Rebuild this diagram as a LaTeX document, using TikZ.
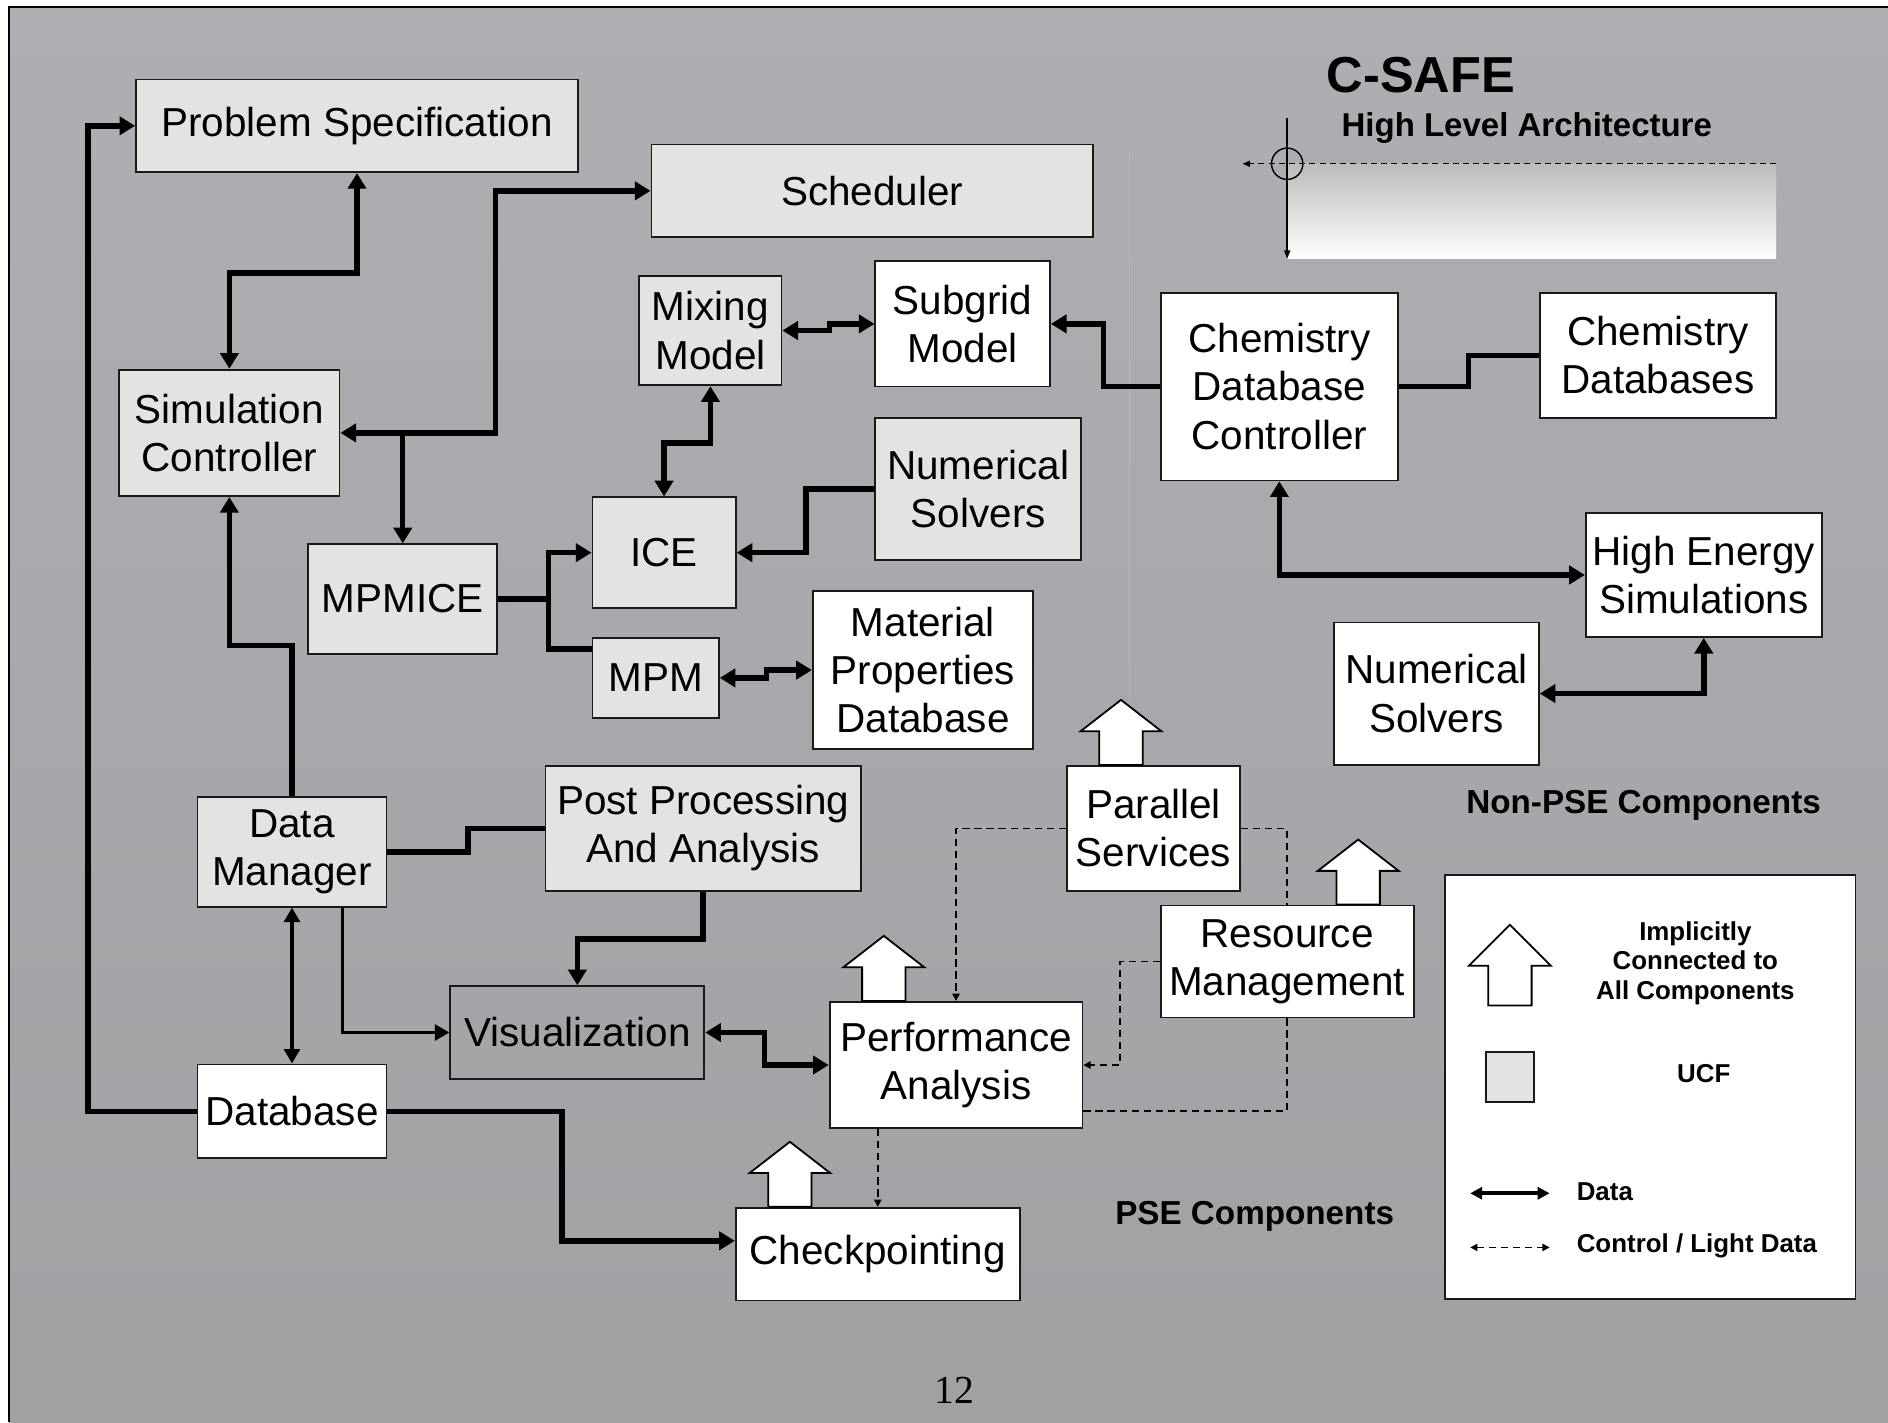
\documentclass[tikz,border=0pt]{standalone}
\usepackage{fontspec}
\setmainfont{Liberation Sans}
\newfontfamily\pagenumfont{Liberation Serif}
\usepackage{tikz}
\usetikzlibrary{arrows.meta,calc}
\usepackage{xcolor}
\definecolor{ucfgray}{RGB}{227,227,227}
\definecolor{bgtop}{RGB}{173,175,179}
\definecolor{bgbot}{RGB}{160,161,163}
\definecolor{hairline}{RGB}{182,184,187}
\definecolor{rulergray}{RGB}{188,188,188}

\tikzset{
  comp/.style={draw=black!90, line width=1.5pt, fill=white, align=center, inner sep=0pt, font=\fontsize{33.6}{40}\selectfont},
  ucf/.style={comp, fill=ucfgray},
  data/.style={line width=4.5pt, >={Triangle[length=13pt,width=15pt]}},
  thindata/.style={line width=3pt, >={Triangle[length=12pt,width=13pt]}},
  ctrl/.style={line width=1.3pt, dash pattern=on 6pt off 4pt, >={Triangle[length=6pt,width=6pt]}},
  caption/.style={font=\fontsize{27.6}{32}\selectfont\bfseries},
  keytext/.style={font=\fontsize{21.5}{24.5}\selectfont\bfseries, align=center},
  implicit/.pic={\draw[line width=1.5pt, fill=white] (-18,0) -- (-18,28) -- (-33.5,28) -- (0,54) -- (33.5,28) -- (18,28) -- (18,0) -- cycle;},
  implicitkey/.pic={\draw[line width=1.5pt, fill=white] (-18,0) -- (-18,33) -- (-34,33) -- (0,67) -- (34,33) -- (18,33) -- (18,0) -- cycle;},
}

\begin{document}
\begin{tikzpicture}[x=1pt,y=1pt,yscale=-1,xscale=1]
\useasboundingbox (0,0) rectangle (1568,1181);

%Shape: Background
\fill[white] (0,0) rectangle (1568,1181);
\shade[top color=bgtop, bottom color=bgbot] (7.5,6) rectangle (1568,1181);
\draw[line width=1.5pt] (7.5,1181) -- (7.5,6) -- (1568,6);
\draw[hairline, line width=1.2pt] (938,125) -- (938,580);

%Shape: Ruler
\shade[top color=rulergray, bottom color=white] (1069,136) rectangle (1475,215);
\coordinate (rulertop) at (1069,98);
\coordinate (rulerbot) at (1069,215);
\coordinate (rulerright) at (1475,136);
\coordinate (rulerleft) at (1032,136);
\draw[line width=1.2pt, -{Triangle[length=7pt,width=5pt]}] (rulertop) -- (rulerbot);
\draw[line width=1.2pt, dash pattern=on 5pt off 3.5pt, -{Triangle[length=6pt,width=5pt]}] (rulerright) -- (rulerleft);
\draw[line width=1.2pt] (1069,136) circle (13pt);

% Text Node
\node[font=\fontsize{42}{48}\selectfont\bfseries] (title) at (1180,62) {C-SAFE};
% Text Node
\node[font=\fontsize{27.4}{32}\selectfont\bfseries] (subtitle) at (1268,106) {High Level Architecture};

% Components
\node[ucf, minimum width=367pt, minimum height=77pt] (prob) at (296.5,104.5) {Problem Specification};
\node[ucf, minimum width=367pt, minimum height=77pt] (sched) at (724.5,158.5) {Scheduler};
\node[ucf, minimum width=118pt, minimum height=91pt] (mix) at (590,274.5) {Mixing\\Model};
\node[comp, minimum width=145pt, minimum height=104pt] (subgrid) at (799.5,269) {Subgrid\\Model};
\node[ucf, minimum width=183pt, minimum height=105pt] (simctrl) at (190.5,359.5) {Simulation\\Controller};
\node[comp, minimum width=197pt, minimum height=156pt] (chemctrl) at (1062.5,321) {Chemistry\\Database\\Controller};
\node[comp, minimum width=196pt, minimum height=104pt] (chemdb) at (1377,295) {Chemistry\\Databases};
\node[ucf, minimum width=171pt, minimum height=118pt] (numsolv) at (812.5,406) {Numerical\\Solvers};
\node[ucf, minimum width=119pt, minimum height=92pt] (ice) at (551.5,459) {ICE};
\node[ucf, minimum width=157pt, minimum height=91pt] (mpmice) at (334.5,497.5) {MPMICE};
\node[ucf, minimum width=105pt, minimum height=66pt] (mpm) at (544.5,563) {MPM};
\node[comp, minimum width=183pt, minimum height=131pt] (matprop) at (766.5,556.5) {Material\\Properties\\Database};
\node[comp, minimum width=196pt, minimum height=103pt] (highen) at (1415,477.5) {High Energy\\Simulations};
\node[comp, minimum width=170pt, minimum height=118pt] (numsolvext) at (1193,576) {Numerical\\Solvers};
\node[comp, minimum width=144pt, minimum height=104pt] (parallel) at (958,688) {Parallel\\Services};
\node[ucf, minimum width=157pt, minimum height=91pt] (datamgr) at (242.5,707.5) {Data\\Manager};
\node[ucf, minimum width=262pt, minimum height=104pt] (postproc) at (584,688) {Post Processing\\And Analysis};
\node[comp, minimum width=210pt, minimum height=93pt] (resource) at (1069,798.5) {Resource\\Management};
\node[comp, fill=none, minimum width=211pt, minimum height=77pt] (vis) at (479.5,857.5) {Visualization};
\node[comp, minimum width=210pt, minimum height=105pt] (perf) at (794,884.5) {Performance\\Analysis};
\node[comp, minimum width=157pt, minimum height=78pt] (database) at (242.5,923) {Database};
\node[comp, minimum width=236pt, minimum height=77pt] (checkpt) at (729,1041.5) {Checkpointing};

%Straight Lines: data
\draw[data,->] (database.west) -- ++(-90,0) |- (prob.west);
\draw[data,<->] (prob.south) -- ++(0,83) -| (simctrl.north);
\draw[data,<->] (simctrl.east) -- ++(129,0) |- (sched.west);
\draw[data,->] (simctrl.east -| mpmice.north) -- (mpmice.north);
\draw[data,->] (datamgr.north) -- ++(0,-125) -| (simctrl.south);
\draw[data,->] (mpmice.east) -- ++(42,0) |- (ice.west);
\draw[data] (mpmice.east) -- ++(42,0) |- ($(mpm.west)+(0,-24)$);
\draw[data,<->] (mix.south) -- ++(0,47) -| (ice.north);
\draw[data,<->] (mix.east) -- ++(39,0) |- (subgrid.west);
\draw[data,->] (chemctrl.west) -- ++(-47,0) |- (subgrid.east);
\draw[data] (chemctrl.east) -- ++(58,0) |- (chemdb.west);
\draw[data,->] (numsolv.west) -- ++(-57,0) |- (ice.east);
\draw[data,<->] (mpm.east) -- ++(39,0) |- (matprop.west);
\draw[data,<->] (chemctrl.south) |- (highen.west);
\draw[data,<->] (highen.south) |- (numsolvext.east);
\draw[data] (datamgr.east) -- ++(67,0) |- (postproc.west);
\draw[data,->] (postproc.south) -- ++(0,39) -| (vis.north);
\draw[thindata,->] ($(datamgr.south)+(42,0)$) |- (vis.west);
\draw[thindata,<->] (datamgr.south) -- (database.north);
\draw[data,<->] (vis.east) -- ++(49,0) |- (perf.west);
\draw[data,->] (database.east) -- ++(145,0) |- ($(checkpt.west)+(0,-11)$);

%Straight Lines: control
\draw[ctrl,->] (parallel.west) -| (perf.north);
\draw[ctrl] (parallel.east) -| (resource.north);
\draw[ctrl,->] (resource.west) -- ++(-33,0) |- (perf.east);
\draw[ctrl] (resource.south) |- ($(perf.east)+(0,38)$);
\draw[ctrl,->] (perf.south -| checkpt.north) -- (checkpt.north);

%Shape: implicit arrows
\pic at ($(parallel.north)+(-27,0)$) {implicit};
\pic at ($(resource.north)+(59,0)$) {implicit};
\pic at ($(perf.north)+(-60,0)$) {implicit};
\pic at ($(checkpt.north)+(-73,0)$) {implicit};

% Text Node
\node[caption] (nonpse) at (1365,669) {Non-PSE Components};
% Text Node
\node[caption] (pse) at (1042,1010) {PSE Components};

%Shape: Legend
\node[comp, minimum width=341pt, minimum height=352pt] (legend) at (1370.5,903) {};
\pic at (1254,835) {implicitkey};
\node[keytext] (implicitlbl) at (1408,800) {Implicitly\\Connected to\\All Components};
\node[ucf, minimum width=40pt, minimum height=41pt] (ucfkey) at (1254,894.5) {};
\node[keytext] (ucflbl) at (1415,892) {UCF};
\coordinate (dataleft) at (1221,991);
\coordinate (dataright) at (1287,991);
\draw[line width=3pt, {Triangle[length=10pt,width=10pt]}-{Triangle[length=10pt,width=10pt]}] (dataleft) -- (dataright);
\node[keytext, anchor=west] (datalbl) at (1306,990) {Data};
\coordinate (ctrlleft) at (1221,1036);
\coordinate (ctrlright) at (1287,1036);
\draw[ctrl,<->] (ctrlleft) -- (ctrlright);
\node[keytext, anchor=west] (ctrllbl) at (1306,1035) {Control / Light Data};

% Text Node
\node[font=\pagenumfont\fontsize{33}{38}\selectfont] (pagenum) at (793,1155) {12};

\end{tikzpicture}
\end{document}
